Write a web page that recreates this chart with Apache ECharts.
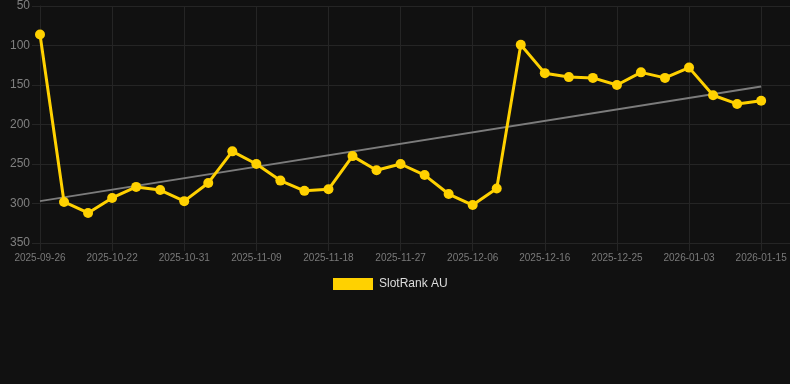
<!DOCTYPE html>
<html>
<head>
<meta charset="utf-8">
<script src="https://cdn.jsdelivr.net/npm/echarts@6/dist/echarts.min.js"></script>
<style>
html,body{margin:0;padding:0;background:#111111;}
#c{width:790px;height:384px;}
</style>
</head>
<body>
<div id="c"></div>
<script>
const categories = [
  '2025-09-26','2025-10-16','2025-10-19','2025-10-22','2025-10-25','2025-10-28',
  '2025-10-31','2025-11-03','2025-11-06','2025-11-09','2025-11-12','2025-11-15',
  '2025-11-18','2025-11-21','2025-11-24','2025-11-27','2025-11-30','2025-12-03',
  '2025-12-06','2025-12-09','2025-12-13','2025-12-16','2025-12-19','2025-12-22',
  '2025-12-25','2025-12-28','2025-12-31','2026-01-03','2026-01-07','2026-01-11',
  '2026-01-15'
];
const slotRankAU = [
  86, 298, 312, 293, 279, 283, 297, 274, 234, 250, 271, 284,
  282, 240, 258, 250, 264, 288, 302, 281, 99, 135, 140, 141,
  150, 134, 141, 128, 163, 174, 170
];
const trendStartEnd = [297, 152];
const yTicks = [50, 100, 150, 200, 250, 300, 350];

const gridColor = '#252525';
const font = 'Liberation Sans, Arial, Helvetica, sans-serif';

const mainData = slotRankAU.map((v, i) => [i, v]);
const trendData = [[0, trendStartEnd[0]], [categories.length - 1, trendStartEnd[1]]];

const chart = echarts.init(document.getElementById('c'), null, {renderer: 'canvas'});
chart.setOption({
  backgroundColor: '#111111',
  animation: false,
  textStyle: {fontFamily: font},
  grid: {left: 40, right: 0, top: 6, bottom: 141, containLabel: false},
  legend: {
    data: [{name: 'SlotRank AU', icon: 'rect'}],
    left: 328, top: 273,
    itemWidth: 40, itemHeight: 12, itemGap: 10,
    textStyle: {color: '#dddddd', fontSize: 12, fontFamily: font, padding: [0, 0, 0, 1]}
  },
  xAxis: {
    type: 'value',
    min: 0, max: 31.2, interval: 3,
    axisLine: {show: true, lineStyle: {color: gridColor}},
    axisTick: {show: true, length: 8, lineStyle: {color: gridColor}},
    splitLine: {show: true, lineStyle: {color: gridColor}},
    axisLabel: {
      color: '#7a7a7a', fontSize: 10, fontFamily: font, margin: 10,
      showMaxLabel: false,
      formatter: v => (Number.isInteger(v) && categories[v]) ? categories[v] : ''
    }
  },
  yAxis: {
    type: 'value',
    inverse: true,
    min: yTicks[0], max: yTicks[yTicks.length - 1], interval: 50,
    axisLine: {show: true, lineStyle: {color: gridColor}},
    axisTick: {show: true, length: 8, lineStyle: {color: gridColor}},
    splitLine: {show: true, lineStyle: {color: gridColor}},
    axisLabel: {color: '#808080', fontSize: 12, fontFamily: font, margin: 10}
  },
  series: [
    {
      name: 'Trend',
      type: 'line',
      data: trendData,
      symbol: 'none',
      lineStyle: {color: '#7c7c7c', width: 2},
      z: 1,
      silent: true
    },
    {
      name: 'SlotRank AU',
      type: 'line',
      data: mainData,
      symbol: 'circle',
      symbolSize: 10,
      itemStyle: {color: '#FFD100'},
      lineStyle: {color: '#FFD100', width: 3},
      z: 3
    }
  ]
});
</script>
</body>
</html>
